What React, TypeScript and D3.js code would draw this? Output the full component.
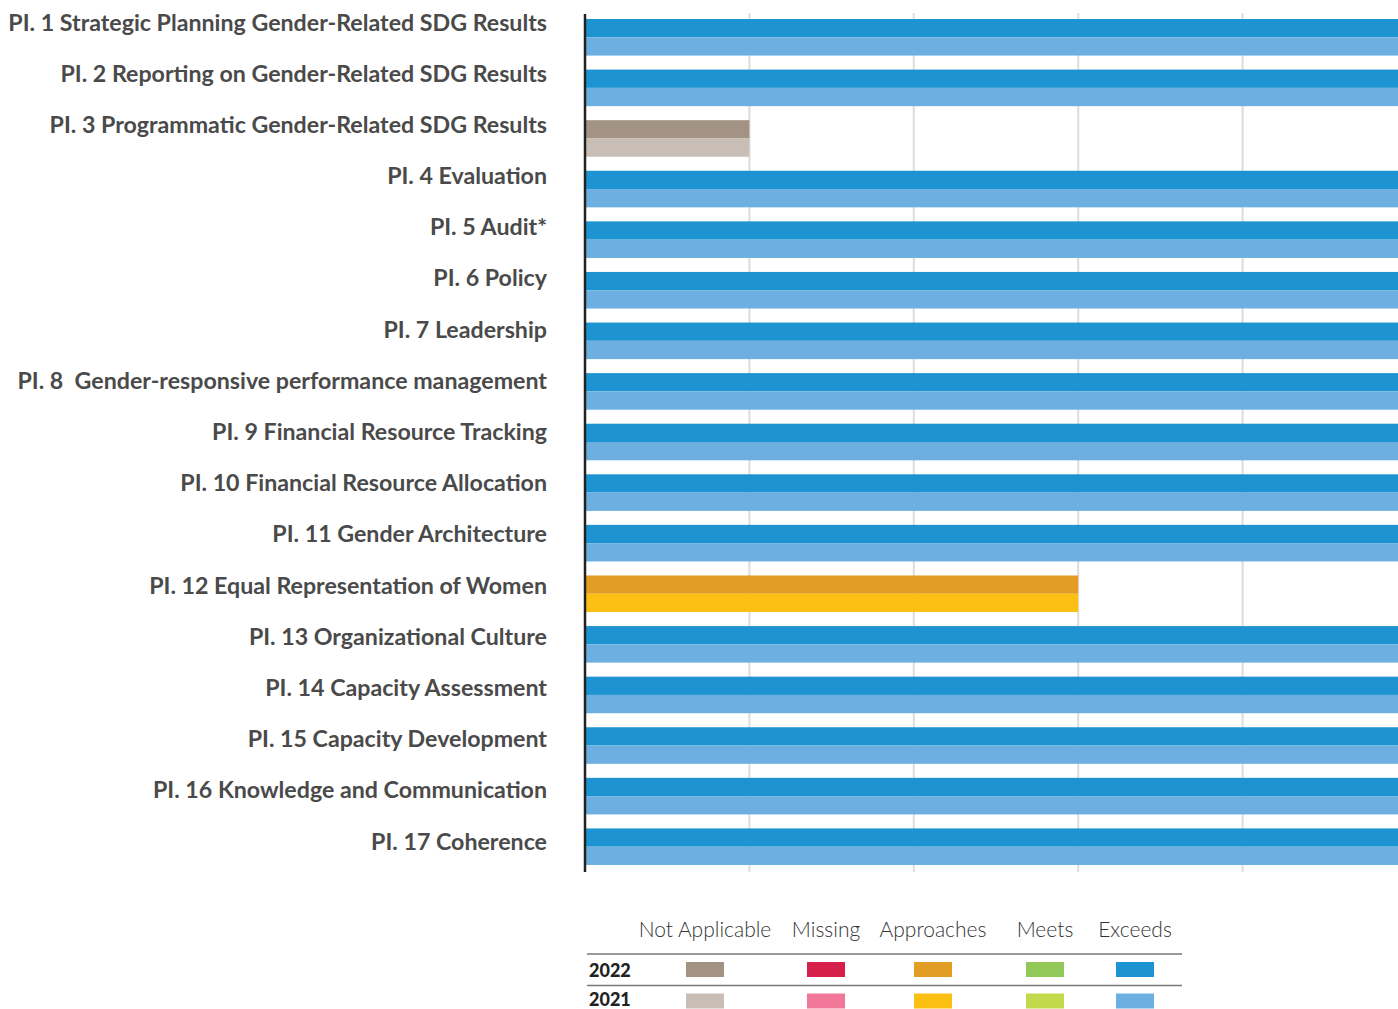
import React from 'react';
import * as d3 from 'd3';

// performance indicators, top to bottom
const indicators = [
  'PI. 1 Strategic Planning Gender-Related SDG Results',
  'PI. 2 Reporting on Gender-Related SDG Results',
  'PI. 3 Programmatic Gender-Related SDG Results',
  'PI. 4 Evaluation',
  'PI. 5 Audit*',
  'PI. 6 Policy',
  'PI. 7 Leadership',
  'PI. 8  Gender-responsive performance management',
  'PI. 9 Financial Resource Tracking',
  'PI. 10 Financial Resource Allocation',
  'PI. 11 Gender Architecture',
  'PI. 12 Equal Representation of Women',
  'PI. 13 Organizational Culture',
  'PI. 14 Capacity Assessment',
  'PI. 15 Capacity Development',
  'PI. 16 Knowledge and Communication',
  'PI. 17 Coherence',
];

const ratings = ['Not Applicable', 'Missing', 'Approaches', 'Meets', 'Exceeds'];
const years = ['2022', '2021'];

const rating2022 = ['Exceeds', 'Exceeds', 'Not Applicable', 'Exceeds', 'Exceeds', 'Exceeds', 'Exceeds', 'Exceeds',
  'Exceeds', 'Exceeds', 'Exceeds', 'Approaches', 'Exceeds', 'Exceeds', 'Exceeds', 'Exceeds', 'Exceeds'];
const rating2021 = ['Exceeds', 'Exceeds', 'Not Applicable', 'Exceeds', 'Exceeds', 'Exceeds', 'Exceeds', 'Exceeds',
  'Exceeds', 'Exceeds', 'Exceeds', 'Approaches', 'Exceeds', 'Exceeds', 'Exceeds', 'Exceeds', 'Exceeds'];

// bar length for each rating
const ratingValue: Record<string, number> = {
  'Not Applicable': 1, 'Missing': 2, 'Approaches': 3, 'Meets': 4, 'Exceeds': 5,
};

const colors2022 = ['#a39384', '#d61f4b', '#e29e24', '#92c857', '#1e93d2'];
const colors2021 = ['#c9beb6', '#f27899', '#fcc014', '#c1d94a', '#6cafe0'];

const gridTicks = [1, 2, 3, 4];

// legend layout
const legendCenters = [705, 826, 933, 1045, 1135];

const W = 1398, H = 1009;

export default function App() {
  const x = d3.scaleLinear().domain([0, 5]).range([585, 1407]);
  const y = d3.scaleBand().domain(indicators).range([19, 865]).paddingInner(0.277).paddingOuter(0);
  // labels sit on a slightly looser spacing than the bars
  const yLabel = d3.scalePoint().domain(indicators).range([30.5, 849.5]);
  const yr = d3.scaleBand().domain(years).range([0, y.bandwidth()]);
  const col2022 = d3.scaleOrdinal<string, string>().domain(ratings).range(colors2022);
  const col2021 = d3.scaleOrdinal<string, string>().domain(ratings).range(colors2021);

  const rows = indicators.map((name, i) => ({ name, r22: rating2022[i], r21: rating2021[i] }));

  return (
    <svg width={W} height={H} style={{ position: 'absolute', left: 0, top: 0, background: '#fff' }}>
      {gridTicks.map(t => (
        <line key={t} x1={x(t)} x2={x(t)} y1={13} y2={872} stroke="#dcdcdc" strokeWidth={2} />
      ))}
      {rows.map(d => (
        <g key={d.name} transform={`translate(0,${y(d.name)})`}>
          <rect x={x(0)} y={yr('2022')} width={x(ratingValue[d.r22]) - x(0)} height={yr.bandwidth()} fill={col2022(d.r22)} />
          <rect x={x(0)} y={yr('2021')} width={x(ratingValue[d.r21]) - x(0)} height={yr.bandwidth()} fill={col2021(d.r21)} />
        </g>
      ))}
      {rows.map(d => (
        <text key={d.name} x={547} y={yLabel(d.name)} textAnchor="end" fontFamily="Lato" fontWeight={700}
          fontSize={23.2} fill="#4a4a4a" style={{ whiteSpace: 'pre' }}>
          {d.name}
        </text>
      ))}
      <line x1={x(0)} x2={x(0)} y1={14} y2={872} stroke="#222" strokeWidth={2.5} />

      {/* legend */}
      <g fontFamily="Lato">
        {ratings.map((r, i) => (
          <text key={r} x={legendCenters[i]} y={937} textAnchor="middle" fontSize={21} fontWeight={300} fill="#333">{r}</text>
        ))}
        <line x1={587} x2={1182} y1={954} y2={954} stroke="#777" strokeWidth={1.6} />
        <line x1={587} x2={1182} y1={985.5} y2={985.5} stroke="#777" strokeWidth={1.6} />
        <text x={589} y={977} fontSize={18} fontWeight={900} fill="#222">2022</text>
        <text x={589} y={1006} fontSize={18} fontWeight={900} fill="#222">2021</text>
        {ratings.map((r, i) => (
          <g key={r}>
            <rect x={legendCenters[i] - 19} y={962} width={38} height={15} fill={col2022(r)} />
            <rect x={legendCenters[i] - 19} y={993.5} width={38} height={15} fill={col2021(r)} />
          </g>
        ))}
      </g>
    </svg>
  );
}
